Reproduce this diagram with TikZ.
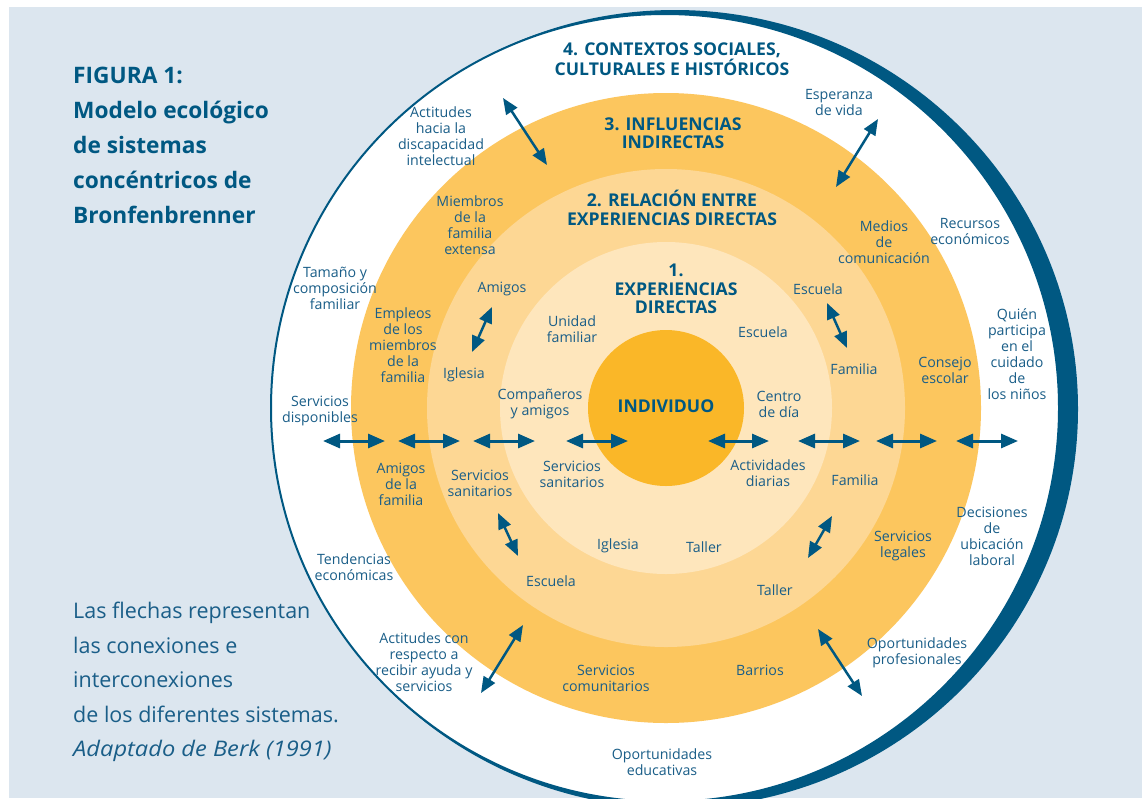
\documentclass[tikz,border=0pt]{standalone}
\usepackage{fontspec}
\usepackage{graphicx}
\setmainfont{Open Sans}
\usetikzlibrary{arrows.meta}
\definecolor{bgc}{RGB}{220,230,239}
\definecolor{dblue}{RGB}{0,88,130}
\definecolor{tblue}{RGB}{26,94,136}
\definecolor{ringthree}{RGB}{252,198,94}
\definecolor{ringtwo}{RGB}{253,215,148}
\definecolor{ringone}{RGB}{254,230,188}
\definecolor{core}{RGB}{250,183,40}
\begin{document}
\begin{tikzpicture}[x=1pt,y=-1pt,
  lbl/.style={align=center,inner sep=0pt,text=tblue,font=\fontsize{14.2}{16}\selectfont},
  hdr/.style={align=center,inner sep=0pt,text=dblue,font=\bfseries\fontsize{17.6}{18.5}\selectfont},
  biarrow/.style={draw=dblue,line width=3pt,{Triangle[length=17pt,width=14pt]}-{Triangle[length=17pt,width=14pt]}},
  diarrow/.style={draw=dblue,line width=2.5pt,{Triangle[length=16pt,width=13pt]}-{Triangle[length=16pt,width=13pt]}},
]
\useasboundingbox (0,0) rectangle (1142,798);
\clip (0,0) rectangle (1142,798);
\fill[white] (0,0) rectangle (1142,798);
\fill[bgc] (9,7) rectangle (1142,798);

% circles
\fill[dblue] (675,409) ellipse [x radius=403pt, y radius=399pt];
\filldraw[fill=white,draw=dblue,line width=2pt] (665,408) circle (394pt);
\fill[ringthree] (666,408) circle (315pt);
\fill[ringtwo] (666,408) circle (239pt);
\fill[ringone] (666,408) circle (166pt);
\fill[core] (666,408) circle (78pt);

% left texts
\node[anchor=north west,inner sep=0pt,align=left,text=dblue,font=\bfseries\fontsize{22.7}{35}\selectfont] (title) at (73,67)
 {FIGURA 1:\\Modelo ecológico\\de sistemas\\concéntricos de\\Bronfenbrenner};
\node[anchor=north west,inner sep=0pt,align=left,text=tblue,font=\fontsize{21.5}{34.5}\selectfont] (note) at (73,602)
 {Las flechas representan\\las conexiones e\\interconexiones\\de los diferentes sistemas.\\\scalebox{1.1}[1]{\itshape Adaptado de Berk (1991)}};

% headings
\node[hdr] (h4) at (672,59) {4. CONTEXTOS SOCIALES,\\CULTURALES E HISTÓRICOS};
\node[hdr] (h3) at (673,133) {3. INFLUENCIAS\\INDIRECTAS};
\node[hdr] (h2) at (672,208) {2. RELACIÓN ENTRE\\EXPERIENCIAS DIRECTAS};
\node[hdr] (h1) at (676,289) {1.\\EXPERIENCIAS\\DIRECTAS};
\node[hdr] (ind) at (666,406) {INDIVIDUO};

% labels
\node[lbl] (l1) at (441,136) {Actitudes\\hacia la\\discapacidad\\intelectual};
\node[lbl] (l2) at (839,102) {Esperanza\\de vida};
\node[lbl] (l3) at (470,225) {Miembros\\de la\\familia\\extensa};
\node[lbl] (l4) at (884,242) {Medios\\de\\comunicación};
\node[lbl] (l5) at (970,231) {Recursos\\económicos};
\node[lbl] (l6) at (335,288) {Tamaño y\\composición\\familiar};
\node[lbl] (l7) at (502,289) {Amigos};
\node[lbl] (l8) at (572,329) {Unidad\\familiar};
\node[lbl] (l9) at (818,289) {Escuela};
\node[lbl] (l10) at (763,332) {Escuela};
\node[lbl] (l11) at (1017,354) {Quién\\participa\\en el\\cuidado\\de\\los niños};
\node[lbl] (l12) at (403,345) {Empleos\\de los\\miembros\\de la\\familia};
\node[lbl] (l13) at (464,375) {Iglesia};
\node[lbl] (l14) at (854,369) {Familia};
\node[lbl] (l15) at (945,370) {Consejo\\escolar};
\node[lbl] (l16) at (320,411) {Servicios\\disponibles};
\node[lbl] (l17) at (540,404) {Compañeros\\y amigos};
\node[lbl] (l18) at (779,404) {Centro\\de día};
\node[lbl] (l19) at (401,484) {Amigos\\de la\\familia};
\node[lbl] (l20) at (480,483) {Servicios\\sanitarios};
\node[lbl] (l21) at (572,474) {Servicios\\sanitarios};
\node[lbl] (l22) at (768,473) {Actividades\\diarias};
\node[lbl] (l23) at (855,480) {Familia};
\node[lbl] (l24) at (992,536) {Decisiones\\de\\ubicación\\laboral};
\node[lbl] (l25) at (903,546) {Servicios\\legales};
\node[lbl] (l26) at (354,567) {Tendencias\\económicas};
\node[lbl] (l27) at (618,546) {Iglesia};
\node[lbl] (l28) at (704,547) {Taller};
\node[lbl] (l29) at (551,581) {Escuela};
\node[lbl] (l30) at (775,590) {Taller};
\node[lbl] (l31) at (424,662) {Actitudes con\\respecto a\\recibir ayuda y\\servicios};
\node[lbl] (l32) at (606,678) {Servicios\\comunitarios};
\node[lbl] (l33) at (760,670) {Barrios};
\node[lbl] (l34) at (917,653) {Oportunidades\\profesionales};
\node[lbl] (l35) at (662,762) {Oportunidades\\educativas};

% horizontal arrows
\foreach \i/\a/\b in {1/323/385,2/398/460,3/473/535,4/566/628,5/708/769,6/798/860,7/876/937,8/956/1018}{
  \coordinate (ha\i) at (\a,441);
  \coordinate (hb\i) at (\b,441);
  \draw[biarrow] (ha\i) -- (hb\i);
}
% diagonal arrows
\coordinate (da1) at (503,98);  \coordinate (db1) at (547,165);
\coordinate (da2) at (878,119); \coordinate (db2) at (836,187);
\coordinate (da3) at (492,307); \coordinate (db3) at (472,352);
\coordinate (da4) at (827,303); \coordinate (db4) at (847,348);
\coordinate (da5) at (498,513); \coordinate (db5) at (518,556);
\coordinate (da6) at (832,516); \coordinate (db6) at (808,558);
\coordinate (da7) at (523,625); \coordinate (db7) at (481,693);
\coordinate (da8) at (818,629); \coordinate (db8) at (862,696);
\foreach \i in {1,...,8}{\draw[diarrow] (da\i) -- (db\i);}
\end{tikzpicture}
\end{document}
